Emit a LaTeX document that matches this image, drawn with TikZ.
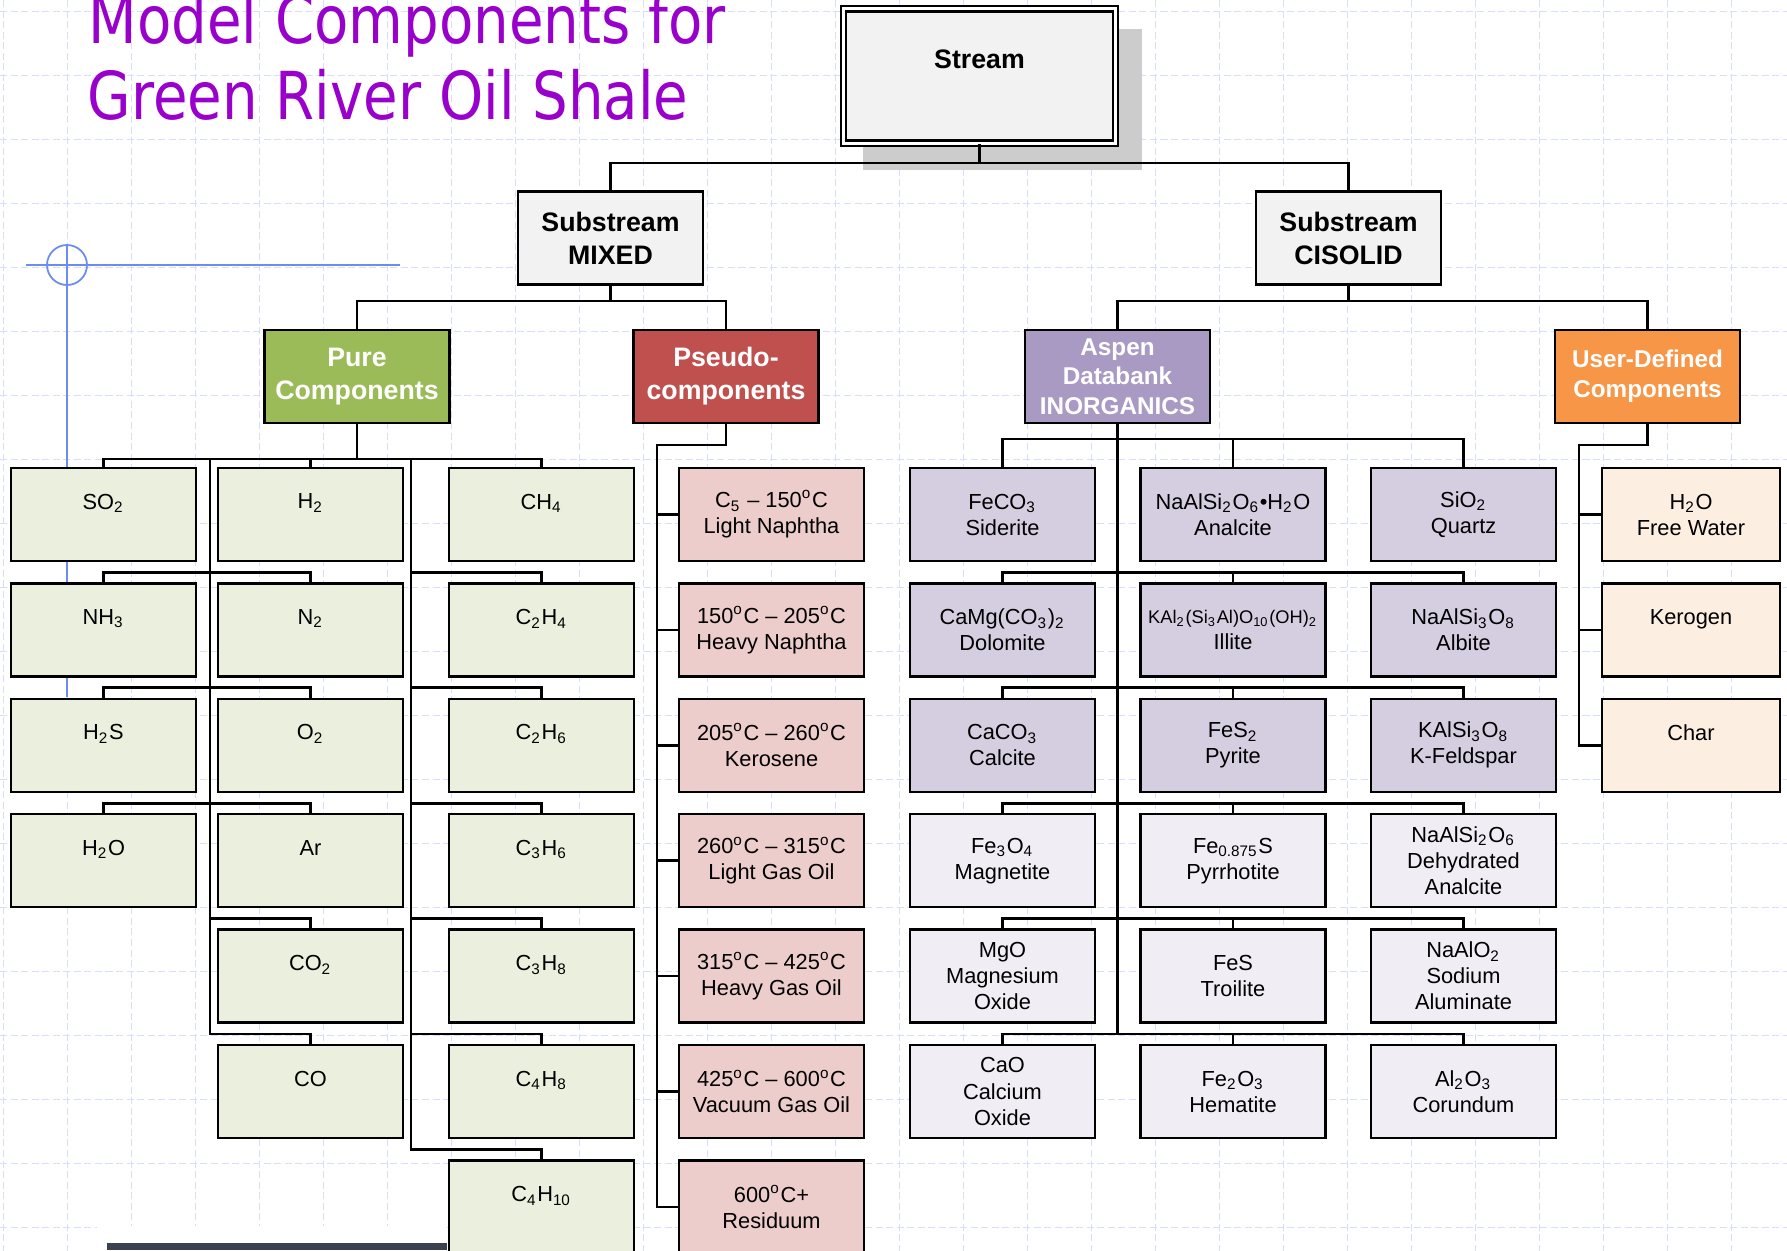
\documentclass[tikz,border=0pt]{standalone}
\usepackage{fontspec}
\setmainfont{Liberation Sans}
\newfontfamily\titlefont{DejaVu Sans}[FakeStretch=0.85]

\definecolor{gridblue}{RGB}{214,222,249}
\definecolor{markblue}{RGB}{108,140,240}
\definecolor{titlepurple}{RGB}{153,0,204}
\definecolor{hdrgray}{RGB}{242,242,242}
\definecolor{shadowgray}{RGB}{204,204,204}
\definecolor{puregreen}{RGB}{155,187,89}
\definecolor{pureleaf}{RGB}{235,240,222}
\definecolor{pseudored}{RGB}{192,80,77}
\definecolor{pseudoleaf}{RGB}{237,205,204}
\definecolor{aspenlilac}{RGB}{169,154,195}
\definecolor{aspenleaf}{RGB}{213,205,224}
\definecolor{aspenpale}{RGB}{240,238,244}
\definecolor{udorange}{RGB}{247,150,70}
\definecolor{udleaf}{RGB}{253,238,226}
\definecolor{barslate}{RGB}{58,66,80}

\newcommand{\dC}{\textsuperscript{o}C}
\newcommand{\sub}[1]{\textsubscript{#1}}

\begin{document}
\begin{tikzpicture}[x=0.01cm, y=-0.01cm,
  box/.style={draw, line width=0.7pt, fill=#1, inner sep=0pt, align=center,
    minimum width=1.85cm, minimum height=0.93cm},
  head/.style={box=#1, font=\fontsize{7.6}{9.4}\selectfont\bfseries},
  leaf/.style={box=#1, font=\fontsize{6.2}{7.4}\selectfont},
  link/.style={line width=0.75pt},
  gridline/.style={gridblue, line width=0.25pt, dash pattern=on 2pt off 1pt}]
  \useasboundingbox[fill=white] (0,0) rectangle (1787,1251);
  % slide grid and guide mark
  \foreach \k in {0,...,19}
    \draw[gridline] (0,{11+64*\k}) -- (1787,{11+64*\k});
  \foreach \k in {0,...,27}
    \draw[gridline] ({3+64*\k},0) -- ({3+64*\k},1251);
  \draw[markblue, line width=0.5pt] (26,265) -- (400,265);
  \draw[markblue, line width=0.5pt] (67,244) -- (67,697);
  \draw[markblue, line width=0.5pt] (67,265) circle [radius=20];
  \fill[white] (97,1226) rectangle (447,1251);
  \fill[barslate] (107,1243) rectangle (447,1250);
  % title
  \node[font=\titlefont\fontsize{18.8}{22}\selectfont, text=titlepurple,
    anchor=base west, inner sep=0pt] (title1) at (88,43) {Model Components for};
  \node[font=\titlefont\fontsize{18.8}{22}\selectfont, text=titlepurple,
    anchor=base west, inner sep=0pt] (title2) at (87,119) {Green River Oil Shale};
  % stream and substreams
  \fill[shadowgray] (863,29) rectangle (1142,170);
  \node[head=hdrgray, double, double distance=0.03cm, line width=0.6pt,
    minimum width=2.72cm, minimum height=1.34cm] (stream) at (979.5,76) {Stream\\\mbox{}};
  \node[head=hdrgray] (mixed) at (610.5,238) {Substream\\MIXED};
  \node[head=hdrgray] (cisolid) at (1348.5,238) {Substream\\CISOLID};
  \node[head=puregreen, text=white] (pure) at (357,376.5) {Pure\\Components};
  \node[head=pseudored, text=white] (pseudo) at (726,376.5) {Pseudo-\\components};
  \node[head=aspenlilac, text=white, font=\fontsize{6.9}{8.4}\selectfont\bfseries]
    (aspen) at (1117.5,376.5) {Aspen\\Databank\\INORGANICS};
  \node[head=udorange, text=white, font=\fontsize{6.9}{8.6}\selectfont\bfseries]
    (userdef) at (1647.5,376.5) {User-Defined\\Components};
  % pure components
  \foreach \lab [count=\i] in {SO\sub{2}, NH\sub{3}, H\sub{2}S, H\sub{2}O}
    \node[leaf=pureleaf] (pa\i) at (103.5,{514.5+115.4*(\i-1)}) {\lab\\\mbox{}};
  \foreach \lab [count=\i] in {H\sub{2}, N\sub{2}, O\sub{2}, Ar, CO\sub{2}, CO}
    \node[leaf=pureleaf] (pb\i) at (310.5,{514.5+115.4*(\i-1)}) {\lab\\\mbox{}};
  \foreach \lab [count=\i] in {CH\sub{4}, C\sub{2}H\sub{4}, C\sub{2}H\sub{6},
      C\sub{3}H\sub{6}, C\sub{3}H\sub{8}, C\sub{4}H\sub{8}, C\sub{4}H\sub{10}}
    \node[leaf=pureleaf] (pc\i) at (541.5,{514.5+115.4*(\i-1)}) {\lab\\\mbox{}};
  % pseudo-components
  \foreach \lab [count=\i] in {C\sub{5} – 150\dC\\Light Naphtha,
      150\dC{} – 205\dC\\Heavy Naphtha, 205\dC{} – 260\dC\\Kerosene,
      260\dC{} – 315\dC\\Light Gas Oil, 315\dC{} – 425\dC\\Heavy Gas Oil,
      425\dC{} – 600\dC\\Vacuum Gas Oil, 600\dC+\\Residuum}
    \node[leaf=pseudoleaf] (q\i) at (771.5,{514.5+115.4*(\i-1)}) {\lab};
  % aspen databank inorganics
  \node[leaf=aspenleaf] (xa1) at (1002.5,514.5) {FeCO\sub{3}\\Siderite};
  \node[leaf=aspenleaf] (xb1) at (1233,514.5) {NaAlSi\sub{2}O\sub{6}•H\sub{2}O\\Analcite};
  \node[leaf=aspenleaf] (xc1) at (1463.5,514.5) {SiO\sub{2}\\Quartz};
  \node[leaf=aspenleaf] (xa2) at (1002.5,629.9) {CaMg(CO\sub{3})\sub{2}\\Dolomite};
  \node[leaf=aspenleaf] (xb2) at (1233,629.9)
    {{\fontsize{5.2}{7.4}\selectfont KAl\sub{2}(Si\sub{3}Al)O\sub{10}(OH)\sub{2}}\\Illite};
  \node[leaf=aspenleaf] (xc2) at (1463.5,629.9) {NaAlSi\sub{3}O\sub{8}\\Albite};
  \node[leaf=aspenleaf] (xa3) at (1002.5,745.3) {CaCO\sub{3}\\Calcite};
  \node[leaf=aspenleaf] (xb3) at (1233,745.3) {FeS\sub{2}\\Pyrite};
  \node[leaf=aspenleaf] (xc3) at (1463.5,745.3) {KAlSi\sub{3}O\sub{8}\\K-Feldspar};
  \node[leaf=aspenpale] (xa4) at (1002.5,860.7) {Fe\sub{3}O\sub{4}\\Magnetite};
  \node[leaf=aspenpale] (xb4) at (1233,860.7) {Fe\sub{0.875}S\\Pyrrhotite};
  \node[leaf=aspenpale] (xc4) at (1463.5,860.7) {NaAlSi\sub{2}O\sub{6}\\Dehydrated\\Analcite};
  \node[leaf=aspenpale] (xa5) at (1002.5,976.1) {MgO\\Magnesium\\Oxide};
  \node[leaf=aspenpale] (xb5) at (1233,976.1) {FeS\\Troilite};
  \node[leaf=aspenpale] (xc5) at (1463.5,976.1) {NaAlO\sub{2}\\Sodium\\Aluminate};
  \node[leaf=aspenpale] (xa6) at (1002.5,1091.5) {CaO\\Calcium\\Oxide};
  \node[leaf=aspenpale] (xb6) at (1233,1091.5) {Fe\sub{2}O\sub{3}\\Hematite};
  \node[leaf=aspenpale] (xc6) at (1463.5,1091.5) {Al\sub{2}O\sub{3}\\Corundum};
  % user-defined
  \node[leaf=udleaf, minimum width=1.78cm] (u1) at (1691,514.5) {H\sub{2}O\\Free Water};
  \node[leaf=udleaf, minimum width=1.78cm] (u2) at (1691,629.9) {Kerogen\\\mbox{}};
  \node[leaf=udleaf, minimum width=1.78cm] (u3) at (1691,745.3) {Char\\\mbox{}};
  % bus levels and trunks
  \coordinate (bus0) at (0,163);
  \coordinate (bus1) at (0,301);
  \coordinate (abus) at (0,439);
  \coordinate (pbus) at (0,459);
  \foreach \i in {2,...,7}
    \coordinate (bus\i) at (0,{457+115.4*(\i-1)});
  \coordinate (ptl) at (210,459);
  \coordinate (ptr) at (411,459);
  \coordinate (qtr) at (657,445);
  \coordinate (utr) at (1579,445);
  % connectors
  \draw[link] (stream.south) -- (stream.south |- bus0);
  \draw[link] (mixed.north) |- (cisolid.north |- bus0) -- (cisolid.north);
  \draw[link] (mixed.south) -- (mixed.south |- bus1);
  \draw[link] (pure.north) |- (pseudo.north |- bus1) -- (pseudo.north);
  \draw[link] (cisolid.south) -- (cisolid.south |- bus1);
  \draw[link] (aspen.north) |- (userdef.north |- bus1) -- (userdef.north);
  % pure components tree
  \draw[link] (pure.south) -- (pure.south |- pbus);
  \draw[link] (pa1.north) |- (pc1.north |- pbus) -- (pc1.north);
  \draw[link] (pb1.north) -- (pb1.north |- pbus);
  \draw[link] (ptl) -- (ptl |- bus6) -| (pb6.north);
  \draw[link] (ptr) -- (ptr |- bus7) -| (pc7.north);
  \foreach \i in {2,3,4}
    \draw[link] (pa\i.north) |- (pb\i.north |- bus\i) -- (pb\i.north);
  \draw[link] (ptl |- bus5) -| (pb5.north);
  \foreach \i in {2,...,6}
    \draw[link] (ptr |- bus\i) -| (pc\i.north);
  % pseudo tree
  \draw[link] (pseudo.south) |- (qtr) |- (q7.west);
  \foreach \i in {1,...,6}
    \draw[link] (qtr |- q\i.west) -- (q\i.west);
  % aspen tree
  \draw[link] (aspen.south) -- (aspen.south |- bus6);
  \draw[link] (xa1.north) |- (xc1.north |- abus) -- (xc1.north);
  \draw[link] (xb1.north) -- (xb1.north |- abus);
  \foreach \i in {2,...,6} {
    \draw[link] (xa\i.north) |- (xc\i.north |- bus\i) -- (xc\i.north);
    \draw[link] (xb\i.north) -- (xb\i.north |- bus\i);
  }
  % user-defined tree
  \draw[link] (userdef.south) |- (utr) |- (u3.west);
  \foreach \i in {1,2}
    \draw[link] (utr |- u\i.west) -- (u\i.west);
\end{tikzpicture}
\end{document}
